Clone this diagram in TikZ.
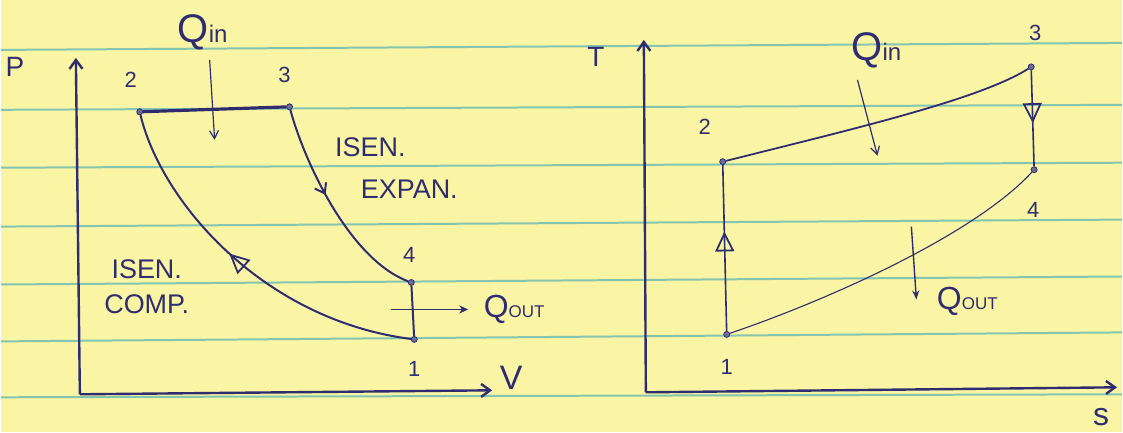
\documentclass[tikz,border=0pt]{standalone}
\usepackage{fontspec}
\setmainfont{Liberation Sans}
\usepackage{xcolor}
\usetikzlibrary{arrows.meta,decorations.markings}
\definecolor{paper}{HTML}{F9F5A4}
\definecolor{rule}{HTML}{84C4B0}
\definecolor{ink}{HTML}{2F2D70}

\begin{document}
\begin{tikzpicture}[x=1pt, y=-1pt,
    dot/.style={circle, fill=ink!70, draw=ink, line width=0.8pt, inner sep=0pt, minimum size=6pt},
    lbl/.style={text=ink, inner sep=0pt, font=\fontsize{22}{22}\selectfont},
    word/.style={text=ink, inner sep=0pt, font=\fontsize{27}{27}\selectfont},
    bigq/.style={text=ink, inner sep=0pt, font=\fontsize{40}{40}\selectfont},
    axis/.style={draw=ink, line width=2.4pt, -{Straight Barb[length=9pt, width=13pt]}},
    heat/.style={draw=ink, line width=1.2pt, -{Straight Barb[length=8pt, width=9pt]}},
    flow/.style={postaction=decorate, decoration={markings,
        mark=at position #1 with {\arrow{Triangle[open, length=20pt, width=19pt, line width=1.8pt]}}}}]
    \fill[paper] (0,0) rectangle (1123,433);
    \foreach \ya/\yb in {50/43,110/105,168/163,227/220,285/277,342/333,398/395}
        \draw[rule, line width=2pt] (0,\ya) -- (1123,\yb);
    \useasboundingbox (0,0) rectangle (1123,433);

    \node[dot] (a2) at (139,112) {};
    \node[dot] (a3) at (289,107) {};
    \node[dot] (a4) at (411,283) {};
    \node[dot] (a1) at (414,340) {};
    \coordinate (aO) at (79,395);
    \coordinate (aP) at (75,58);
    \coordinate (aV) at (492,391);
    \draw[axis] (aO) -- (aP);
    \draw[axis] (aO) -- (aV);
    \draw[ink, line width=3.2pt] (a2) -- (a3);
    \draw[ink, line width=2pt, postaction=decorate, decoration={markings,
        mark=at position 0.43 with {\arrow{Straight Barb[length=9pt, width=13pt]}}}]
        (a3) .. controls (305,165) and (350,260) .. (a4);
    \draw[ink, line width=2pt] (a4) -- (a1);
    \draw[ink, line width=2pt, flow=0.55] (a1) .. controls (260,320) and (160,200) .. (a2);
    \coordinate (qa1) at (209,60);
    \coordinate (qa2) at (214,140);
    \draw[heat] (qa1) -- (qa2);
    \coordinate (qb1) at (391,310);
    \coordinate (qb2) at (468,310);
    \draw[ink, line width=1.5pt, -{Stealth[length=9pt, width=8pt]}] (qb1) -- (qb2);
    \node[word, font=\fontsize{28}{28}\selectfont] (lP) at (14,67) {P};
    \node[bigq] (lQin) at (202,32) {Q{\fontsize{24}{24}\selectfont in}};
    \node[lbl] (l2) at (130,80) {2};
    \node[lbl] (l3) at (284,75) {3};
    \node[lbl] (l4) at (409,255) {4};
    \node[lbl] (l1) at (414,370) {1};
    \node[word] (lexp1) at (370,147) {ISEN.};
    \node[word] (lexp2) at (409,190) {EXPAN.};
    \node[word] (lcmp1) at (146,270) {ISEN.};
    \node[word] (lcmp2) at (146,305) {COMP.};
    \node[bigq, font=\fontsize{32}{32}\selectfont] (lQout) at (514,310) {Q{\fontsize{17}{17}\selectfont OUT}};
    \node[word, font=\fontsize{34}{34}\selectfont] (lV) at (511,378) {V};

    \node[dot] (b1) at (727,335) {};
    \node[dot] (b2) at (723,162) {};
    \node[dot] (b3) at (1032,67) {};
    \node[dot] (b4) at (1035,170) {};
    \coordinate (bO) at (646,393);
    \coordinate (bT) at (644,40);
    \coordinate (bS) at (1118,388);
    \draw[axis] (bO) -- (bT);
    \draw[axis] (bO) -- (bS);
    \draw[ink, line width=1.6pt, flow=0.6] (b1) -- (b2);
    \draw[ink, line width=1.8pt] (b2) .. controls (850,130) and (980,100) .. (b3);
    \draw[ink, line width=1.6pt, flow=0.55] (b3) -- (b4);
    \draw[ink, line width=1.1pt] (b4) .. controls (975,235) and (830,300) .. (b1);
    \coordinate (qc1) at (858,80);
    \coordinate (qc2) at (878,156);
    \draw[heat] (qc1) -- (qc2);
    \coordinate (qd1) at (912,227);
    \coordinate (qd2) at (917,300);
    \draw[ink, line width=1.4pt, -{Stealth[length=9pt, width=7pt]}] (qd1) -- (qd2);
    \node[word, font=\fontsize{28}{28}\selectfont] (lT) at (596,57) {T};
    \node[bigq] (rQin) at (877,50) {Q{\fontsize{24}{24}\selectfont in}};
    \node[lbl] (r2) at (705,127) {2};
    \node[lbl] (r3) at (1036,33) {3};
    \node[lbl] (r4) at (1034,210) {4};
    \node[lbl] (r1) at (727,368) {1};
    \node[bigq, font=\fontsize{32}{32}\selectfont] (rQout) at (968,302) {Q{\fontsize{17}{17}\selectfont OUT}};
    \node[word, font=\fontsize{32}{32}\selectfont] (lS) at (1102,418) {s};
\end{tikzpicture}
\end{document}
